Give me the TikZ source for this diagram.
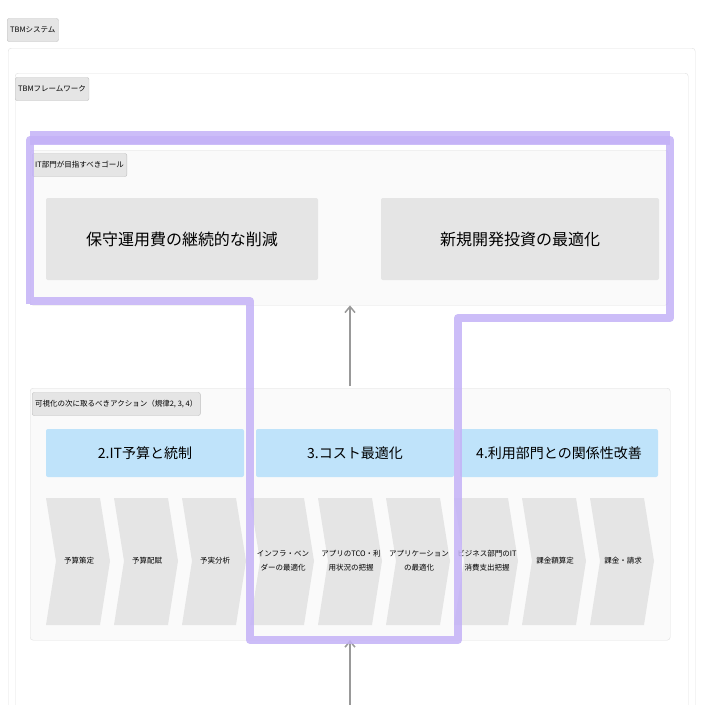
\documentclass[tikz,border=0pt]{standalone}
\usepackage{fontspec}
\setmainfont{Noto Sans CJK JP}
\usetikzlibrary{arrows.meta}
\definecolor{hdr}{HTML}{BFE3FA}
\definecolor{lav}{HTML}{C4B2F7}
\begin{document}
\begin{tikzpicture}[x=1pt,y=-1pt,
  tag/.style={draw=black!25,fill=black!10,rounded corners=2pt,font=\fontsize{7.5}{8}\selectfont,inner sep=3pt,anchor=west,minimum height=23pt},
  panel/.style={draw=black!12,rounded corners=3pt},
  goal/.style={fill=black!10,rounded corners=2pt,font=\fontsize{16}{19}\selectfont},
  head/.style={fill=hdr,rounded corners=2pt,font=\fontsize{14}{17}\selectfont},
  hl/.style={draw=lav,line width=8pt,opacity=0.85},
  arr/.style={draw=black!40,line width=1.5pt,->,>={Straight Barb[length=6pt,width=10pt]}},
  cht/.style={font=\fontsize{7.5}{14}\selectfont,align=center}]
\useasboundingbox (0,0) rectangle (705,705);
\fill[white] (0,0) rectangle (705,705);
\node[panel,minimum width=687pt,minimum height=660pt,anchor=north west] (sys) at (8,48) {};
\node[tag] (tsys) at (7,30) {TBMシステム};
\node[panel,minimum width=673pt,minimum height=640pt,anchor=north west] (fw) at (15,73) {};
\node[tag] (tfw) at (15,89) {TBMフレームワーク};
\node[panel,fill=black!2,minimum width=638pt,minimum height=155pt,anchor=north west] (gp) at (30,150) {};
\node[tag] (tgp) at (32,165) {IT部門が目指すべきゴール};
\node[goal,minimum width=272pt,minimum height=82pt] (g1) at (182,239) {保守運用費の継続的な削減};
\node[goal,minimum width=278pt,minimum height=82pt] (g2) at (520,239) {新規開発投資の最適化};
\node[panel,fill=black!2,minimum width=640pt,minimum height=252pt,anchor=north west] (ap) at (30,388) {};
\node[tag] (tap) at (32,404) {可視化の次に取るべきアクション（規律2, 3, 4）};
\node[head,minimum width=198pt,minimum height=48pt] (h2) at (145,453) {2.IT予算と統制};
\node[head,minimum width=198pt,minimum height=48pt] (h3) at (355,453) {3.コスト最適化};
\node[head,minimum width=198pt,minimum height=48pt] (h4) at (559,453) {4.利用部門との関係性改善};
\foreach \x/\t [count=\i] in {46/予算策定,114/予算配賦,182/予実分析,250/{インフラ・ベン\\ダーの最適化},318/{アプリのTCO・利\\用状況の把握},386/{アプリケーション\\の最適化},454/{ビジネス部門のIT\\消費支出把握},522/課金額算定,590/課金・請求}{
  \fill[black!10] (\x,498) -- (\x+54,498) -- (\x+64,561) -- (\x+54,625) -- (\x,625) -- (\x+10,561) -- cycle;
  \node[cht] (c\i) at (\x+33,561) {\t};
}
\coordinate (a1s) at (350,386);
\coordinate (a2s) at (350,705);
\draw[arr] (a1s) -- (gp.south -| a1s);
\draw[arr] (a2s) -- (350,640);
\draw[hl,line join=round] (30,304) -- (30,140) -- (670,140) -- (670,318) -- (458,318) -- (458,640) -- (250,640) -- (250,301) -- (30,301);
\draw[lav,line width=14pt,opacity=0.85] (30,138) -- (670,138);
\end{tikzpicture}
\end{document}
